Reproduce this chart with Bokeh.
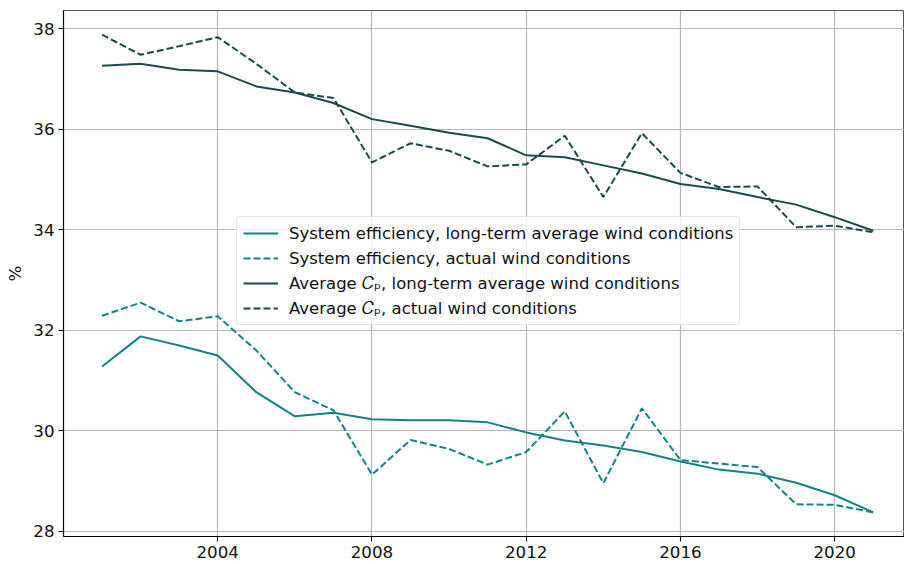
from bokeh.plotting import figure
from bokeh.models import Legend, LegendItem, Range1d, FixedTicker, ColumnDataSource
from bokeh.embed import file_html
from bokeh.resources import INLINE

years = list(range(2001, 2022))
sys_eff_longterm = [31.28, 31.88, 31.70, 31.50, 30.77, 30.29, 30.36, 30.23, 30.21, 30.21, 30.17,
                    29.97, 29.81, 29.71, 29.58, 29.39, 29.23, 29.15, 28.97, 28.72, 28.38]
sys_eff_actual = [32.29, 32.55, 32.18, 32.28, 31.60, 30.77, 30.41, 29.13, 29.82, 29.64, 29.33,
                  29.58, 30.39, 28.96, 30.45, 29.42, 29.35, 29.28, 28.54, 28.53, 28.38]
cp_longterm = [37.26, 37.30, 37.18, 37.15, 36.85, 36.73, 36.52, 36.20, 36.07, 35.93, 35.82,
               35.48, 35.44, 35.28, 35.12, 34.91, 34.81, 34.65, 34.50, 34.25, 33.98]
cp_actual = [37.88, 37.48, 37.65, 37.83, 37.30, 36.73, 36.62, 35.34, 35.72, 35.57, 35.26,
             35.30, 35.87, 34.65, 35.92, 35.13, 34.85, 34.86, 34.05, 34.08, 33.95]
x_ticks = [2004, 2008, 2012, 2016, 2020]
y_ticks = [28, 30, 32, 34, 36, 38]
labels = ["System efficiency, long-term average wind conditions",
          "System efficiency, actual wind conditions",
          "Average \U0001D436\u209A, long-term average wind conditions",
          "Average \U0001D436\u209A, actual wind conditions"]

TEAL = "#138384"
DARK = "#1b4a4c"

p = figure(width=904, height=564, output_backend="svg", toolbar_location=None,
           x_range=Range1d(2000.0, 2021.81), y_range=Range1d(27.90, 38.36),
           min_border_left=63, min_border_top=10, min_border_right=0, min_border_bottom=28)

src = ColumnDataSource(dict(x=years, a=sys_eff_longterm, b=sys_eff_actual, c=cp_longterm, d=cp_actual))
r1 = p.line("x", "a", source=src, line_color=TEAL, line_width=2)
r2 = p.line("x", "b", source=src, line_color=TEAL, line_width=2, line_dash="7 3")
r3 = p.line("x", "c", source=src, line_color=DARK, line_width=2)
r4 = p.line("x", "d", source=src, line_color=DARK, line_width=2, line_dash="7 3")

p.xaxis.ticker = FixedTicker(ticks=x_ticks)
p.yaxis.ticker = FixedTicker(ticks=y_ticks)
for ax in (p.xaxis[0], p.yaxis[0]):
    ax.major_label_text_font = "DejaVu Sans"
    ax.major_label_text_font_size = "16.7px"
    ax.major_label_text_color = "#111111"
    ax.axis_line_color = "black"
    ax.axis_line_width = 1.2
    ax.major_tick_line_color = "black"
    ax.major_tick_line_width = 1.1
    ax.major_tick_in = 0
    ax.major_tick_out = 5
    ax.minor_tick_line_color = None
    ax.major_label_standoff = 4
p.yaxis.axis_label = "%"
p.yaxis.axis_label_text_font = "DejaVu Sans"
p.yaxis.axis_label_text_font_style = "normal"
p.yaxis.axis_label_text_font_size = "16.7px"
p.yaxis.axis_label_text_color = "#111111"
p.yaxis.axis_label_standoff = 5

p.xgrid.ticker = FixedTicker(ticks=x_ticks)
p.ygrid.ticker = FixedTicker(ticks=y_ticks)
p.grid.grid_line_color = "#b8b8b8"
p.grid.grid_line_width = 1.2
p.outline_line_color = "#555555"
p.outline_line_width = 1
p.background_fill_color = "white"
p.border_fill_color = "white"

legend = Legend(items=[LegendItem(label=labels[0], renderers=[r1]),
                       LegendItem(label=labels[1], renderers=[r2]),
                       LegendItem(label=labels[2], renderers=[r3]),
                       LegendItem(label=labels[3], renderers=[r4])],
                location=(173, 211))
legend.label_text_font = "DejaVu Sans"
legend.label_text_font_size = "16.5px"
legend.label_text_color = "#111111"
legend.glyph_width = 35
legend.glyph_height = 20
legend.label_height = 20
legend.label_standoff = 11
legend.spacing = 5
legend.padding = 6
legend.margin = 0
legend.border_line_color = "#cccccc"
legend.border_line_width = 1
legend.border_radius = 4
legend.background_fill_alpha = 0.8
p.add_layout(legend, "center")

open("out.html", "w").write(file_html(p, INLINE))
